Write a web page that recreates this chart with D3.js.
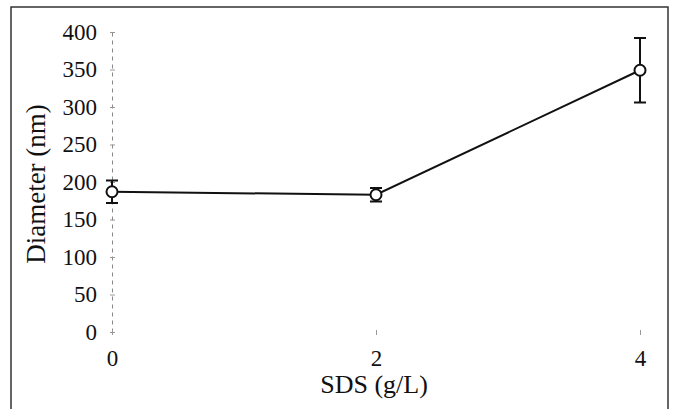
<!DOCTYPE html>
<html>
<head>
<meta charset="utf-8">
<script src="https://cdn.jsdelivr.net/npm/d3@7"></script>
<style>
  body { margin: 0; background: #fff; }
  text { font-family: "Liberation Serif", "DejaVu Serif", serif; fill: #111; }
</style>
</head>
<body>
<script>
// ---------------- data ----------------
var sds = [0, 2, 4];                 // SDS concentration (g/L)
var diameter = [187, 183, 349];      // mean diameter (nm)
var errors = [15, 9, 43];            // error bar half-height (nm)
var yTicks = [0, 50, 100, 150, 200, 250, 300, 350, 400];
var xTicks = [0, 2, 4];

var points = sds.map(function(d, i) {
  return { x: d, y: diameter[i], e: errors[i] };
});

// ---------------- svg ----------------
var W = 678, H = 409;
var svg = d3.select("body").append("svg")
    .attr("width", W)
    .attr("height", H);

// outer frame (bottom runs off the picture)
svg.append("rect")
    .attr("x", 11).attr("y", 7)
    .attr("width", 657).attr("height", 420)
    .attr("fill", "none")
    .attr("stroke", "#333")
    .attr("stroke-width", 1.5);

// ---------------- scales ----------------
var x = d3.scaleLinear().domain([0, 4]).range([112, 640]);
var y = d3.scaleLinear().domain([0, 400]).range([332, 32]);

// y axis: faint broken line, short ticks
var yAxis = svg.append("g")
    .attr("transform", "translate(" + x(0) + ",0)")
    .call(d3.axisLeft(y).tickValues(yTicks).tickFormat(d3.format("d"))
        .tickSize(0).tickPadding(15));
yAxis.select(".domain")
    .attr("stroke", "#888")
    .attr("stroke-width", 1)
    .attr("stroke-dasharray", "4,4");
yAxis.selectAll(".tick line")
    .attr("x1", -2).attr("x2", 3)
    .attr("stroke", "#999");
yAxis.selectAll(".tick text")
    .style("font-size", "23px")
    .attr("font-family", null);

// x axis: no visible line, tiny ticks only
var xAxis = svg.append("g")
    .attr("transform", "translate(0," + y(0) + ")")
    .call(d3.axisBottom(x).tickValues(xTicks).tickFormat(d3.format("d"))
        .tickSize(0).tickPadding(18));
xAxis.select(".domain").remove();
xAxis.selectAll(".tick line")
    .attr("y1", -2).attr("y2", 3)
    .attr("stroke", "#999");
xAxis.selectAll(".tick text")
    .style("font-size", "23px")
    .attr("font-family", null);

// axis titles
svg.append("text")
    .attr("x", 374).attr("y", 393)
    .attr("text-anchor", "middle")
    .style("font-size", "26px")
    .text("SDS (g/L)");

svg.append("text")
    .attr("transform", "translate(45,184) rotate(-90)")
    .attr("text-anchor", "middle")
    .style("font-size", "27px")
    .text("Diameter (nm)");

// ---------------- line ----------------
var line = d3.line()
    .x(function(d) { return x(d.x); })
    .y(function(d) { return y(d.y); });

svg.append("path")
    .datum(points)
    .attr("d", line)
    .attr("fill", "none")
    .attr("stroke", "#111")
    .attr("stroke-width", 2);

// ---------------- error bars ----------------
var bars = svg.append("g")
    .attr("stroke", "#111")
    .attr("stroke-width", 2)
    .selectAll("g")
    .data(points)
    .enter().append("g");

bars.append("line")
    .attr("x1", function(d) { return x(d.x); })
    .attr("x2", function(d) { return x(d.x); })
    .attr("y1", function(d) { return y(d.y + d.e); })
    .attr("y2", function(d) { return y(d.y - d.e); });

bars.append("line")
    .attr("x1", function(d) { return x(d.x) - 6; })
    .attr("x2", function(d) { return x(d.x) + 6; })
    .attr("y1", function(d) { return y(d.y + d.e); })
    .attr("y2", function(d) { return y(d.y + d.e); });

bars.append("line")
    .attr("x1", function(d) { return x(d.x) - 6; })
    .attr("x2", function(d) { return x(d.x) + 6; })
    .attr("y1", function(d) { return y(d.y - d.e); })
    .attr("y2", function(d) { return y(d.y - d.e); });

// ---------------- markers ----------------
svg.append("g")
    .selectAll("circle")
    .data(points)
    .enter().append("circle")
    .attr("cx", function(d) { return x(d.x); })
    .attr("cy", function(d) { return y(d.y); })
    .attr("r", 5.5)
    .attr("fill", "#fff")
    .attr("stroke", "#111")
    .attr("stroke-width", 2);
</script>
</body>
</html>
